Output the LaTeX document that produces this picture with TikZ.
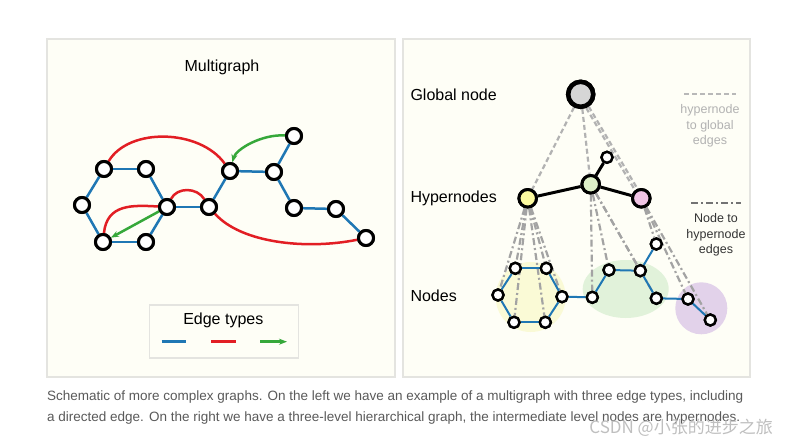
\documentclass[tikz,border=0pt]{standalone}
\usepackage{fontspec}
\setmainfont{Liberation Sans}
\newfontfamily\cjkfont{Noto Sans CJK SC}
\usepackage{tikz}
\usetikzlibrary{arrows.meta}

\definecolor{panelbg}{RGB}{254,254,246}
\definecolor{panelline}{RGB}{228,228,224}
\definecolor{edgeblue}{RGB}{31,119,180}
\definecolor{edgered}{RGB}{226,30,36}
\definecolor{edgegreen}{RGB}{54,168,58}
\definecolor{globfill}{RGB}{214,214,214}
\definecolor{hyyellow}{RGB}{252,250,160}
\definecolor{hygreen}{RGB}{222,240,200}
\definecolor{hypink}{RGB}{240,196,228}
\definecolor{blobyellow}{RGB}{250,250,214}
\definecolor{blobgreen}{RGB}{225,242,218}
\definecolor{blobpurple}{RGB}{226,210,234}
\definecolor{captiongray}{RGB}{90,90,90}

\begin{document}
\begin{tikzpicture}[x=1pt, y=-1pt, >=Stealth,
    vtx/.style={circle, draw=black, line width=3pt, fill=white, minimum size=15pt, inner sep=0pt},
    svtx/.style={circle, draw=black, line width=2.4pt, fill=white, minimum size=11pt, inner sep=0pt},
    hyper/.style={circle, draw=black, line width=3pt, minimum size=17.5pt, inner sep=0pt},
    bedge/.style={edgeblue, line width=2.5pt},
    thinb/.style={edgeblue, line width=2pt},
    redge/.style={edgered, line width=2.5pt},
    gedge/.style={edgegreen, line width=2.5pt, -{Stealth[length=8pt,width=6pt]}},
    gledge/.style={black!30, line width=2.2pt, dash pattern=on 5pt off 3pt},
    nhedge/.style={black!36, line width=2.2pt, dash pattern=on 7pt off 3pt on 2pt off 3pt},
    lbl/.style={font=\fontsize{16}{19}\selectfont, anchor=west}
]
    \useasboundingbox (0,0) rectangle (788,447);
    \fill[white] (0,0) rectangle (788,447);

    % Panels
    \filldraw[fill=panelbg, draw=panelline, line width=1.2pt] (47,39) rectangle (395,377);
    \filldraw[fill=panelbg, draw=panelline, line width=1.2pt] (403,39) rectangle (750,377);

    % Multigraph
    \node[font=\fontsize{16}{19}\selectfont] (title) at (222,67) {Multigraph};
    \node[vtx] (n1) at (104,169) {};
    \node[vtx] (n2) at (146,169) {};
    \node[vtx] (n3) at (82,205) {};
    \node[vtx] (n4) at (167,207) {};
    \node[vtx] (n5) at (103,242) {};
    \node[vtx] (n6) at (146,242) {};
    \node[vtx] (n7) at (209,207) {};
    \node[vtx] (n8) at (230,171) {};
    \node[vtx] (n9) at (274,172) {};
    \node[vtx] (n10) at (294,136) {};
    \node[vtx] (n11) at (294,208) {};
    \node[vtx] (n12) at (336,209) {};
    \node[vtx] (n13) at (366,238) {};

    \foreach \a/\b in {n1/n2, n1/n3, n3/n5, n5/n6, n6/n4, n4/n2, n4/n7, n7/n8, n8/n9, n9/n10, n9/n11, n11/n12, n12/n13}
        \draw[bedge] (\a) -- (\b);
    \draw[redge] (n1) .. controls +(25,-42) and +(-30,-42) .. (n8);
    \draw[redge] (n5) .. controls +(4,-38) and +(-35,-2) .. (n4);
    \draw[redge] (n4) .. controls +(10,-20) and +(-12,-20) .. (n7);
    \draw[redge] (n7) .. controls +(32,36) and +(-60,12) .. (n13);
    \draw[gedge] (n4) -- (n5);
    \draw[gedge] (n10) .. controls +(-32,-2) and +(6,-22) .. (n8);
    % redraw nodes on top
    \foreach \n in {n1,n2,n3,n4,n5,n6,n7,n8,n9,n10,n11,n12,n13}
        \draw[black, line width=3pt, fill=white] (\n.center) circle (7.5);

    % Edge types legend
    \node[draw=panelline, fill=panelbg, line width=1.5pt, minimum width=149pt, minimum height=53pt, inner sep=0pt] (legend) at (223.8,331.7) {};
    \node[font=\fontsize{16}{19}\selectfont] (legtitle) at (223.3,320) {Edge types};
    \draw[bedge] (161.7,341.7) -- (185.7,341.7);
    \draw[redge] (211,341.7) -- (235.7,341.7);
    \draw[gedge] (260,341.7) -- (287,341.7);

    % Hierarchical graph labels
    \node[lbl] (lglob) at (407,95) {Global node};
    \node[lbl] (lhyp) at (407,198) {Hypernodes};
    \node[lbl] (lnod) at (407,296) {Nodes};

    % Blobs
    \fill[blobyellow] (530.7,297) circle (35);
    \fill[blobgreen] (625.7,289) ellipse [x radius=43, y radius=29];
    \fill[blobpurple] (701.3,308.3) circle (26);

    % Global and hypernodes
    \node[circle, draw=black, line width=4.5pt, fill=globfill, minimum size=25pt, inner sep=0pt] (glob) at (580.7,94.3) {};
    \node[hyper, fill=hyyellow] (hy) at (527.7,198.3) {};
    \node[hyper, fill=hygreen] (hg) at (590.7,184.3) {};
    \node[hyper, fill=hypink] (hp) at (641.3,198.3) {};
    \node[svtx] (ht) at (607,157.3) {};

    % Nodes
    \node[svtx] (h1) at (515.3,268.3) {};
    \node[svtx] (h2) at (546.3,268.3) {};
    \node[svtx] (h3) at (498,295) {};
    \node[svtx] (h4) at (562,296.7) {};
    \node[svtx] (h5) at (514,322.3) {};
    \node[svtx] (h6) at (545.3,322.3) {};
    \node[svtx] (g1) at (592.3,297.3) {};
    \node[svtx] (g2) at (609,270) {};
    \node[svtx] (g3) at (640.3,270.7) {};
    \node[svtx] (g4) at (656.3,244) {};
    \node[svtx] (g5) at (656.3,298.3) {};
    \node[svtx] (p1) at (688,299) {};
    \node[svtx] (p2) at (710.3,320) {};

    % Hypernode to global edges
    \draw[gledge] (glob) -- (hy);
    \draw[gledge] (glob) -- (hg);
    \draw[gledge] (glob.-57) -- (hp.112);
    \draw[gledge] (glob.-68) -- (hp.128);

    % Node to hypernode edges
    \foreach \n in {h1,h2,h3,h4,h5,h6}
        \draw[nhedge] (hy) -- (\n);
    \foreach \n in {g1,g2,g3,g5}
        \draw[nhedge] (hg) -- (\n);
    \foreach \n in {g4,p1,p2}
        \draw[nhedge] (hp) -- (\n);

    % Hypernode edges
    \draw[black, line width=3pt] (hy) -- (hg);
    \draw[black, line width=3pt] (hg) -- (hp);
    \draw[black, line width=3pt] (hg) -- (ht);

    % Node edges
    \foreach \a/\b in {h1/h2, h1/h3, h3/h5, h5/h6, h6/h4, h4/h2, h4/g1, g1/g2, g2/g3, g3/g4, g3/g5, g5/p1, p1/p2}
        \draw[thinb] (\a) -- (\b);

    % redraw nodes on top
    \draw[black, line width=4.5pt, fill=globfill] (glob.center) circle (12.5);
    \draw[black, line width=3pt, fill=hyyellow] (hy.center) circle (8.75);
    \draw[black, line width=3pt, fill=hygreen] (hg.center) circle (8.75);
    \draw[black, line width=3pt, fill=hypink] (hp.center) circle (8.75);
    \foreach \n in {ht,h1,h2,h3,h4,h5,h6,g1,g2,g3,g4,g5,p1,p2}
        \draw[black, line width=2.4pt, fill=white] (\n.center) circle (5.5);

    % Edge legend
    \coordinate (gla) at (684,94.3);
    \coordinate (glb) at (736,94.3);
    \draw[gledge, black!28] (gla) -- (glb);
    \node[text=black!30, font=\fontsize{12.5}{15.5}\selectfont, align=center] (gltext) at (710,126) {hypernode\\to global\\edges};
    \coordinate (nha) at (691,203.3);
    \coordinate (nhb) at (741,203.3);
    \draw[nhedge, black!55] (nha) -- (nhb);
    \node[text=black!80, font=\fontsize{12.5}{15.5}\selectfont, align=center] (nhtext) at (716,235) {Node to\\hypernode\\edges};

    % Caption
    \node[anchor=west, text=captiongray, font=\fontsize{13.5}{16}\selectfont, inner sep=0pt] (cap1) at (47,397) {Schematic of more complex graphs. On the left we have an example of a multigraph with three edge types, including};
    \node[anchor=west, text=captiongray, font=\fontsize{13.5}{16}\selectfont, inner sep=0pt] (cap2) at (47,418) {a directed edge. On the right we have a three-level hierarchical graph, the intermediate level nodes are hypernodes.};
    \node[anchor=east, text=black!25, font=\cjkfont\fontsize{17}{20}\selectfont, inner sep=0pt] (mark) at (773,428) {CSDN @小张的进步之旅};
\end{tikzpicture}
\end{document}
